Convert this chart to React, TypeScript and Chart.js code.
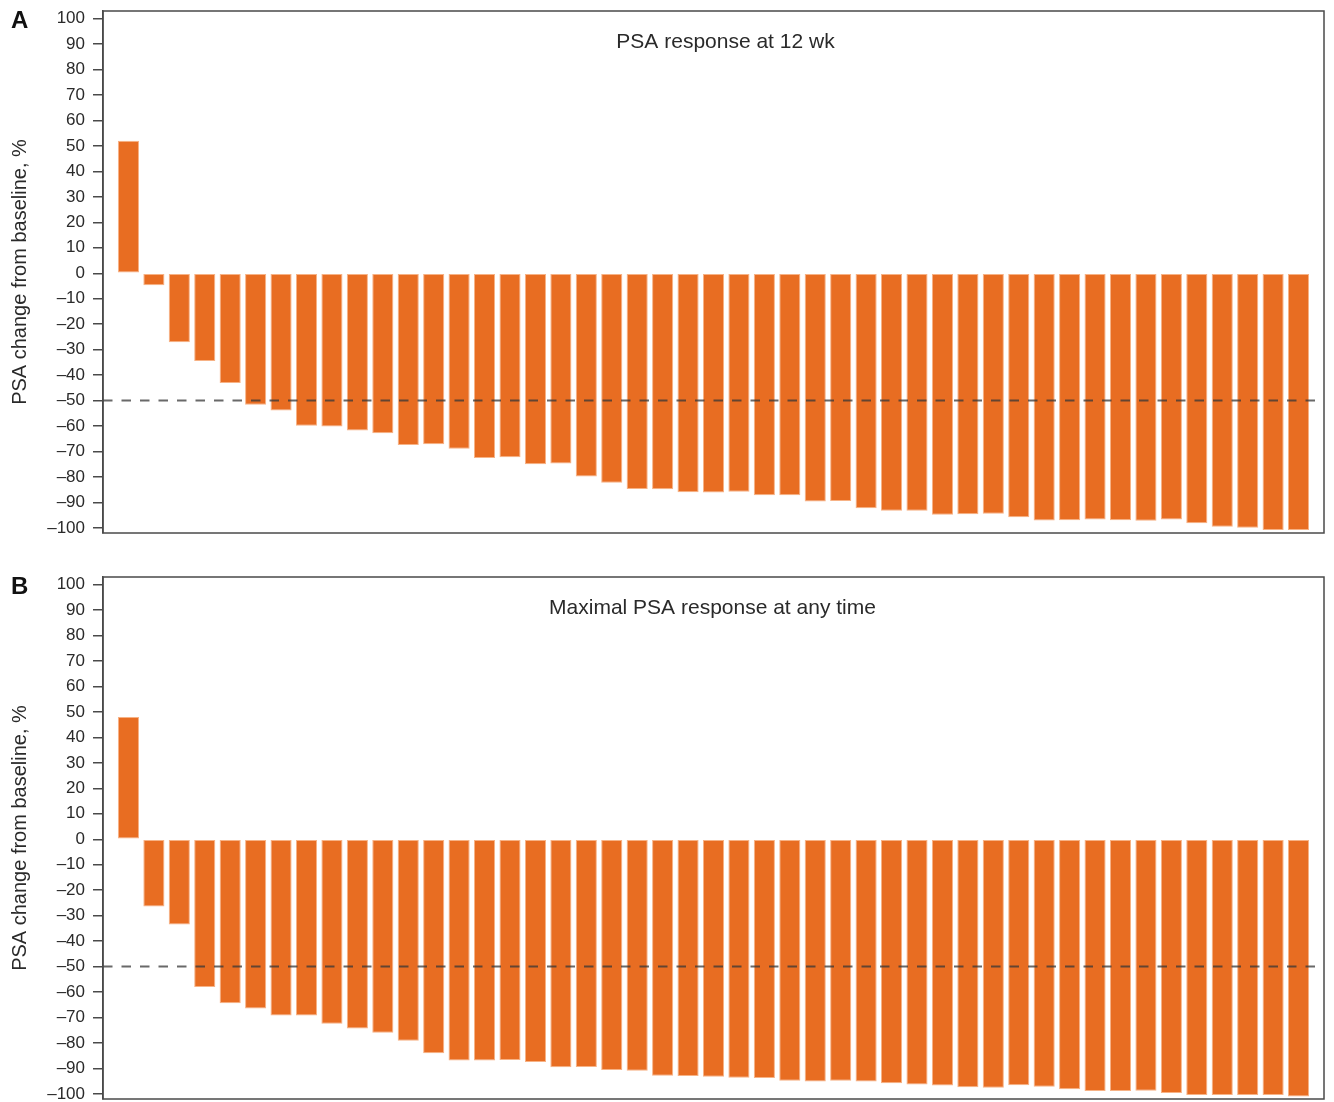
import React, { useEffect, useRef } from "react";
import { Chart, registerables } from "chart.js";

Chart.register(...registerables);

// ---- Data ----
const panelALetter = "A";
const panelBLetter = "B";
const panelATitle = "PSA response at 12 wk";
const panelBTitle = "Maximal PSA response at any time";
const yAxisTitle = "PSA change from baseline, %";

const psaAt12wk: number[] = [
  52, -4.7, -27.1, -34.5, -43.1, -51.6, -53.9, -59.9, -60.2, -61.7,
  -62.8, -67.4, -67.1, -68.9, -72.5, -72.3, -75.0, -74.7, -79.8, -82.3,
  -84.7, -84.8, -86.0, -86.1, -85.8, -87.2, -87.2, -89.6, -89.4, -92.3,
  -93.3, -93.3, -94.8, -94.6, -94.4, -95.8, -97.1, -97.0, -96.7, -97.0,
  -97.2, -96.7, -98.2, -99.5, -99.9, -100.8, -100.8,
];

const psaMaximal: number[] = [
  48, -26.4, -33.5, -58.0, -64.4, -66.5, -69.2, -69.2, -72.4, -74.3,
  -76.0, -79.1, -84.0, -86.9, -86.9, -86.7, -87.5, -89.5, -89.4, -90.6,
  -90.9, -92.9, -93.0, -93.3, -93.7, -93.8, -94.8, -95.1, -94.8, -95.1,
  -95.8, -96.3, -96.7, -97.4, -97.6, -96.6, -97.2, -98.2, -98.9, -98.9,
  -98.8, -99.6, -100.4, -100.4, -100.4, -100.4, -101.0,
];

const yTickValues: number[] = [
  100, 90, 80, 70, 60, 50, 40, 30, 20, 10, 0,
  -10, -20, -30, -40, -50, -60, -70, -80, -90, -100,
];
const responseThreshold = -50;

// ---- Styles ----
const BAR_COLOR = "#E86D22";
const FONT = "'Liberation Sans', Arial, Helvetica, sans-serif";
const TEXT_COLOR = "#2a2a2a";
const AXIS_COLOR = "#4a4a4a";

type PanelProps = {
  values: number[];
  letter: string;
  title: string;
  titleOffsetX: number;
  top: number;
};

function Panel({ values, letter, title, titleOffsetX, top }: PanelProps) {
  const ref = useRef<HTMLCanvasElement | null>(null);

  useEffect(() => {
    if (!ref.current) return;
    const points = values.map((v, i) => ({ x: i + 1, y: v }));

    const decor = {
      id: "decor",
      afterDatasetsDraw(chart: any) {
        const { ctx, chartArea } = chart;
        const yScale = chart.scales.y;
        const y = yScale.getPixelForValue(responseThreshold);
        ctx.save();
        // dashed threshold line
        ctx.strokeStyle = "rgba(55,55,55,0.75)";
        ctx.lineWidth = 2;
        ctx.setLineDash([9.5, 9]);
        ctx.beginPath();
        ctx.moveTo(chartArea.left, y);
        ctx.lineTo(chartArea.right, y);
        ctx.stroke();
        ctx.setLineDash([]);
        // frame
        ctx.strokeStyle = AXIS_COLOR;
        ctx.lineWidth = 1.5;
        ctx.strokeRect(
          chartArea.left,
          chartArea.top,
          chartArea.right - chartArea.left,
          chartArea.bottom - chartArea.top
        );
        // panel title
        ctx.fillStyle = TEXT_COLOR;
        ctx.font = `21px ${FONT}`;
        ctx.textAlign = "center";
        ctx.textBaseline = "middle";
        ctx.fillText(
          title,
          (chartArea.left + chartArea.right) / 2 + titleOffsetX,
          chartArea.top + 31
        );
        // panel letter
        ctx.font = `bold 24px ${FONT}`;
        ctx.textAlign = "left";
        ctx.fillStyle = "#111";
        ctx.fillText(letter, 11, chartArea.top + 10);
        ctx.restore();
      },
    };

    const chart = new Chart(ref.current, {
      type: "bar",
      data: {
        datasets: [
          {
            data: points as any,
            backgroundColor: BAR_COLOR,
            borderColor: "rgba(246,170,120,0.9)",
            borderWidth: 1,
            borderSkipped: false,
            barPercentage: 0.83,
            categoryPercentage: 1,
          },
        ],
      },
      options: {
        animation: false,
        responsive: true,
        maintainAspectRatio: false,
        layout: { padding: { left: 0, right: 10, top: 11, bottom: 7 } },
        plugins: {
          legend: { display: false },
          tooltip: { enabled: false },
          title: { display: false },
        },
        scales: {
          x: {
            type: "linear",
            min: 0,
            max: values.length + 1,
            offset: false,
            display: false,
          },
          y: {
            min: -102,
            max: 103,
            afterBuildTicks: (scale: any) => {
              scale.ticks = yTickValues.map((v) => ({ value: v }));
            },
            afterFit: (scale: any) => {
              scale.width = 103;
              scale.paddingTop = 0;
              scale.paddingBottom = 0;
            },
            ticks: {
              autoSkip: false,
              padding: 8,
              color: TEXT_COLOR,
              font: { family: FONT, size: 17 },
              callback: (v: any) => (Number(v) < 0 ? "\u2013" + Math.abs(Number(v)) : String(v)),
            },
            grid: {
              display: true,
              drawOnChartArea: false,
              drawTicks: true,
              tickLength: 10,
              color: AXIS_COLOR,
              lineWidth: 1.5,
            },
            border: { display: true, color: AXIS_COLOR, width: 1.5 },
            title: {
              display: true,
              text: yAxisTitle,
              color: TEXT_COLOR,
              font: { family: FONT, size: 20 },
              padding: { top: 8, bottom: 0 },
            },
          },
        },
      },
      plugins: [decor],
    });
    return () => chart.destroy();
  }, [values, letter, title, titleOffsetX]);

  return (
    <div style={{ position: "absolute", left: 0, top, width: 1334, height: 540 }}>
      <canvas ref={ref} style={{ display: "block" }} />
    </div>
  );
}

export default function App() {
  return (
    <div
      style={{
        position: "absolute",
        left: 0,
        top: 0,
        width: 1334,
        height: 1102,
        background: "#fff",
        overflow: "hidden",
      }}
    >
      <Panel values={psaAt12wk} letter={panelALetter} title={panelATitle} titleOffsetX={12} top={0} />
      <Panel values={psaMaximal} letter={panelBLetter} title={panelBTitle} titleOffsetX={-1} top={566} />
    </div>
  );
}
